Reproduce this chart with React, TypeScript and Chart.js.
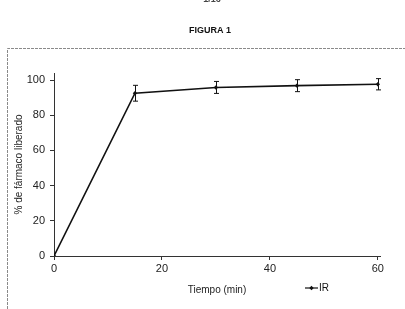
import React, { useEffect, useRef } from "react";
import { Chart, registerables } from "chart.js";

Chart.register(...registerables);

const times = [0, 15, 30, 45, 60];
const released = [0, 92.5, 95.8, 96.8, 97.6];
const errors = [0, 4.5, 3.4, 3.4, 3.2];
const xTickValues = [0, 20, 40, 60];
const yTickValues = [0, 20, 40, 60, 80, 100];
const seriesLabel = "IR";
const pageLabel = "1/16";
const chartTitle = "FIGURA 1";
const xTitle = "Tiempo (min)";
const yTitle = "% de fármaco liberado";

const FONT = "'Liberation Sans', Arial, sans-serif";

const decorPlugin = {
  id: "decor",
  beforeDraw(chart: any) {
    const ctx = chart.ctx;
    ctx.save();
    ctx.fillStyle = "#ffffff";
    ctx.fillRect(0, 0, chart.width, chart.height);
    // frame
    ctx.strokeStyle = "#8a8a8a";
    ctx.lineWidth = 1;
    ctx.setLineDash([3, 1]);
    ctx.beginPath();
    ctx.moveTo(7.5, 309);
    ctx.lineTo(7.5, 48.5);
    ctx.lineTo(405, 48.5);
    ctx.stroke();
    ctx.setLineDash([]);
    // page label (cut at top)
    ctx.fillStyle = "#444";
    ctx.font = `bold 9px ${FONT}`;
    ctx.textAlign = "center";
    ctx.textBaseline = "middle";
    ctx.fillText(pageLabel, 212, -0.5);
    // title
    ctx.fillStyle = "#111";
    ctx.font = `bold 9px ${FONT}`;
    ctx.fillText(chartTitle, 210, 31);
    ctx.restore();
  },
  afterDatasetsDraw(chart: any) {
    const ctx = chart.ctx;
    const xs = chart.scales.x;
    const ys = chart.scales.y;
    ctx.save();
    ctx.strokeStyle = "#111";
    ctx.lineWidth = 1;
    times.forEach((t, i) => {
      const e = errors[i];
      if (!e) return;
      const x = Math.round(xs.getPixelForValue(t)) + 0.5;
      const yt = ys.getPixelForValue(released[i] + e);
      const yb = ys.getPixelForValue(released[i] - e);
      ctx.beginPath();
      ctx.moveTo(x, yt);
      ctx.lineTo(x, yb);
      ctx.moveTo(x - 2.5, yt);
      ctx.lineTo(x + 2.5, yt);
      ctx.moveTo(x - 2.5, yb);
      ctx.lineTo(x + 2.5, yb);
      ctx.stroke();
    });
    // legend
    const ly = 288;
    ctx.lineWidth = 1.2;
    ctx.beginPath();
    ctx.moveTo(305, ly);
    ctx.lineTo(318, ly);
    ctx.stroke();
    ctx.fillStyle = "#111";
    ctx.beginPath();
    ctx.moveTo(311.5, ly - 2.2);
    ctx.lineTo(313.7, ly);
    ctx.lineTo(311.5, ly + 2.2);
    ctx.lineTo(309.3, ly);
    ctx.closePath();
    ctx.fill();
    ctx.font = `10px ${FONT}`;
    ctx.textAlign = "left";
    ctx.textBaseline = "middle";
    ctx.fillText(seriesLabel, 319, ly);
    ctx.restore();
  },
};

export default function App() {
  const ref = useRef<HTMLCanvasElement>(null);
  useEffect(() => {
    const chart = new Chart(ref.current!, {
      type: "line",
      data: {
        datasets: [
          {
            label: seriesLabel,
            data: times.map((t, i) => ({ x: t, y: released[i] })),
            borderColor: "#111",
            backgroundColor: "#111",
            borderWidth: 1.6,
            pointStyle: "rectRot",
            pointRadius: 2.2,
            pointBorderWidth: 0,
            tension: 0,
          },
        ],
      },
      options: {
        animation: false,
        responsive: false,
        devicePixelRatio: 1,
        layout: { padding: { top: 73, right: 25, bottom: 13, left: 0 } },
        plugins: {
          legend: { display: false },
          title: { display: false },
          tooltip: { enabled: false },
        },
        scales: {
          x: {
            type: "linear",
            min: 0,
            max: 60.4,
            afterBuildTicks: (s: any) => {
              s.ticks = xTickValues.map((v) => ({ value: v }));
            },
            afterFit: (s: any) => {
              s.height = 40;
            },
            border: { color: "#333", width: 1 },
            grid: {
              display: true,
              drawOnChartArea: false,
              drawTicks: true,
              tickLength: 4,
              color: "#333",
            },
            ticks: {
              color: "#222",
              padding: 2,
              font: { family: FONT, size: 11 },
            },
            title: {
              display: true,
              text: xTitle,
              color: "#222",
              font: { family: FONT, size: 10 },
              padding: { top: 6, bottom: 0 },
            },
          },
          y: {
            min: 0,
            max: 104,
            afterBuildTicks: (s: any) => {
              s.ticks = yTickValues.map((v) => ({ value: v }));
            },
            afterFit: (s: any) => {
              s.width = 54;
            },
            border: { color: "#333", width: 1 },
            grid: {
              display: true,
              drawOnChartArea: false,
              drawTicks: true,
              tickLength: 4,
              color: "#333",
            },
            ticks: {
              color: "#222",
              padding: 5,
              font: { family: FONT, size: 11 },
            },
            title: {
              display: true,
              text: yTitle,
              color: "#222",
              font: { family: FONT, size: 10 },
              padding: { top: 13, bottom: 0 },
            },
          },
        },
      },
      plugins: [decorPlugin],
    } as any);
    return () => chart.destroy();
  }, []);
  return (
    <div style={{ position: "absolute", left: 0, top: 0, width: 405, height: 309 }}>
      <canvas ref={ref} width={405} height={309} style={{ width: 405, height: 309 }} />
    </div>
  );
}
